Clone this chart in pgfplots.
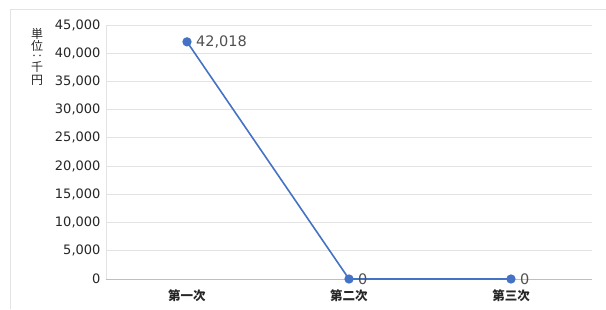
\documentclass[border=0pt]{standalone}
\usepackage{fontspec}
\setmainfont{Noto Sans CJK JP}
\newfontfamily\numfont{DejaVu Sans}
\usepackage{pgfplots}
\pgfplotsset{compat=1.18}
\definecolor{lineblue}{HTML}{4472C4}
\definecolor{gridgray}{HTML}{E3E3E3}
\definecolor{txt}{HTML}{505050}
\begin{document}
\begin{tikzpicture}
\path[use as bounding box] (0pt,0pt) rectangle (606pt,309pt);
\draw[gridgray, line width=1pt] (10.5pt,0pt) -- (10.5pt,299.5pt) -- (606pt,299.5pt);
\begin{axis}[
  at={(106pt,30pt)}, anchor=south west,
  scale only axis, width=486pt, height=254pt,
  xmin=-0.5, xmax=2.5, ymin=0, ymax=45000,
  xtick={0,1,2}, xticklabels={第一次,第二次,第三次},
  ytick={0,5000,...,45000},
  /pgf/number format/assume math mode=true,
  /pgf/number format/1000 sep={,},
  scaled y ticks=false,
  major tick length=0pt,
  ymajorgrids, grid style={gridgray, line width=0.8pt},
  axis x line=bottom, axis y line=left,
  axis line style={draw=gridgray, line width=0.8pt, -},
  x axis line style={draw=black!25},
  yticklabel style={font=\numfont\fontsize{13}{14}\selectfont, text=black!85, xshift=-2pt},
  xticklabel style={font=\fontsize{12.5}{13}\selectfont\bfseries, text=black!85, yshift=-7pt},
  nodes near coords,
  point meta=explicit,
  nodes near coords style={font=\numfont\fontsize{14.5}{15}\selectfont, text=txt, anchor=west, xshift=5pt,
    /pgf/number format/assume math mode=true, /pgf/number format/1000 sep={,}},
  clip=false,
]
\addplot[lineblue, line width=1.6pt, mark=*, mark size=3.8pt, mark options={fill=lineblue, draw=lineblue}]
  coordinates {(0,42018) [42018] (1,0) [0] (2,0) [0]};
\end{axis}
\begin{scope}[every node/.style={text=black!85, font=\fontsize{12}{12}\selectfont, inner sep=0pt}]
\node at (37pt,275.5pt) {単};
\node at (37pt,263.5pt) {位};
\node at (37pt,251pt) {‥};
\node at (37pt,241.5pt) {千};
\node at (37pt,229pt) {円};
\end{scope}
\end{tikzpicture}
\end{document}
